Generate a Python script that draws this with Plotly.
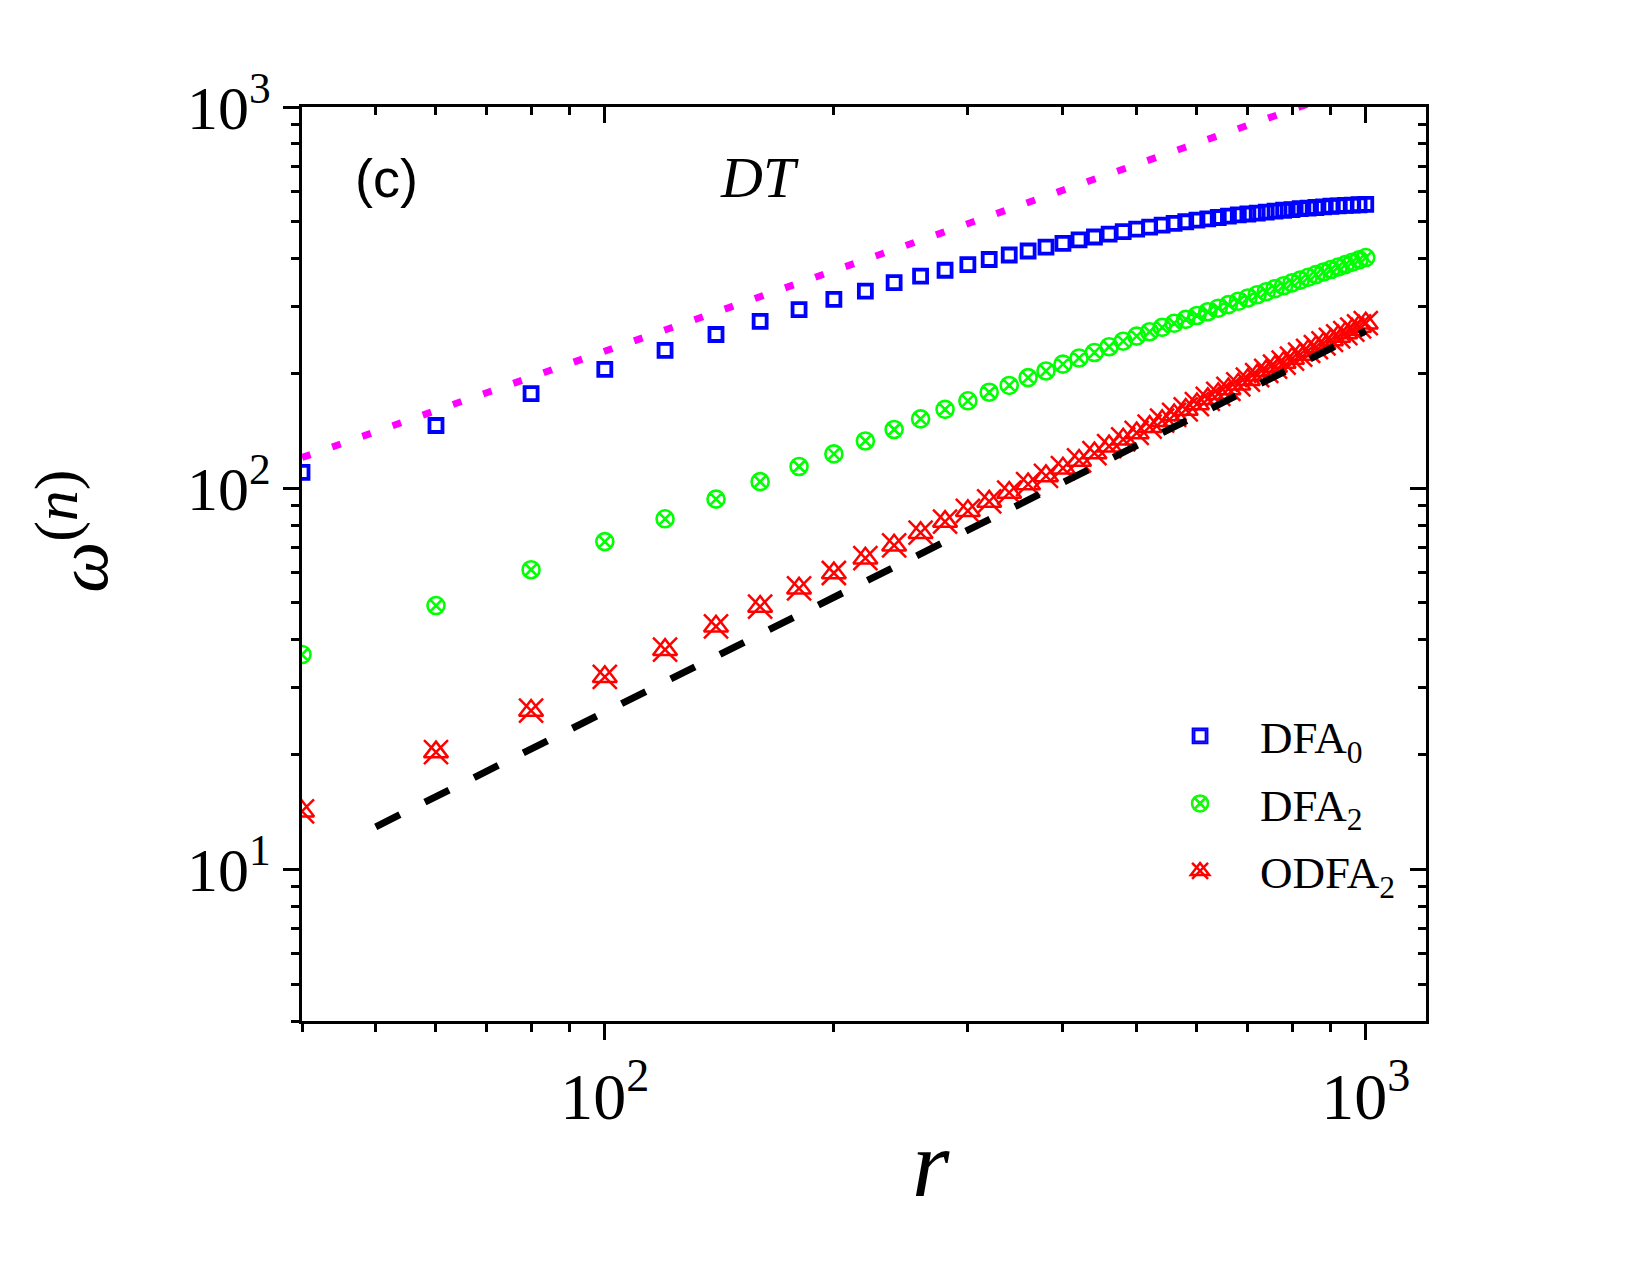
import math
import plotly.graph_objects as go

# ---------------- data ----------------
r_vals = [40, 60, 80, 100, 120, 140, 160, 180, 200, 220, 240, 260, 280, 300, 320, 340,
          360, 380, 400, 420, 440, 460, 480, 500, 520, 540, 560, 580, 600, 620, 640, 660,
          680, 700, 720, 740, 760, 780, 800, 820, 840, 860, 880, 900, 920, 940, 960, 980, 1000]

dfa0 = [110, 146, 177, 205, 230, 253, 274, 294, 313, 329, 346, 360, 373, 386, 398, 409,
        419, 429, 439, 448, 456, 464, 471, 478, 484, 490, 495, 500, 505, 509, 513, 517,
        521, 524, 527, 530, 533, 536, 538, 541, 543, 545, 547, 549, 550, 552, 553, 554, 555]

dfa2 = [36.6, 49.2, 61.1, 72.4, 83.1, 93.6, 104, 114, 123, 133, 142.5, 152, 161, 169.5, 178.5, 186,
        195, 203, 211.5, 219.5, 227, 235, 243, 250.5, 257.3, 264.1, 270.7, 277.3, 283.8, 290.3, 296.6, 303,
        309.2, 315.4, 321.6, 327.7, 333.7, 339.7, 345.6, 351.5, 357.4, 363.2, 369, 374.7, 380.4, 386, 391.6, 397.2, 402.7]

odfa2 = [14.2, 20.3, 26.1, 32.0, 37.7, 43.4, 48.9, 54.6, 59.9, 65.5, 70.8, 76.4, 81.7, 87.2, 92.3, 97.4,
         102.5, 107.7, 112.8, 118.2, 123.6, 128.9, 134.3, 139.6, 145, 150.3, 155.6, 160.9, 166.2, 171.5, 176.8, 182.1,
         187.3, 192.6, 197.9, 203.1, 208.4, 213.6, 218.8, 224.1, 229.3, 234.5, 239.7, 244.9, 250.1, 255.3, 260.5, 265.7, 270.9]

# reference power-law guide lines (end points)
dot_x = [40, 1000]
dot_y = [120.3, 1150]
dash_x = [50, 1000]
dash_y = [12.93, 258.6]

series_names = ["DFA<sub>0</sub>", "DFA<sub>2</sub>", "ODFA<sub>2</sub>"]

x_major = [100, 1000]
x_major_text = ["10<sup>2</sup>", "10<sup>3</sup>"]
x_minor = [40, 50, 60, 70, 80, 90, 200, 300, 400, 500, 600, 700, 800, 900]
y_major = [10, 100, 1000]
y_major_text = ["10<sup>1</sup>", "10<sup>2</sup>", "10<sup>3</sup>"]
y_minor = [4, 5, 6, 7, 8, 9, 20, 30, 40, 50, 60, 70, 80, 90, 200, 300, 400, 500, 600, 700, 800, 900]

x_range = [math.log10(40), math.log10(1200)]
y_range = [math.log10(4), 3]

# ---------------- figure ----------------
BLUE, GREEN, RED, MAG = "#0000FF", "#00FF00", "#FF0000", "#FF00FF"
SERIF = "Liberation Serif"

fig = go.Figure()

fig.add_trace(go.Scatter(
    x=r_vals, y=dfa0, mode="markers", name=series_names[0], legendgroup="g0",
    marker=dict(symbol="square-open", size=13, color=BLUE, line=dict(width=3.8, color=BLUE))))
fig.add_trace(go.Scatter(
    x=r_vals, y=dfa2, mode="markers", name=series_names[1], legendgroup="g1",
    marker=dict(symbol="circle-x-open", size=17, color=GREEN, line=dict(width=2.6, color=GREEN))))
fig.add_trace(go.Scatter(
    x=r_vals, y=odfa2, mode="markers", name=series_names[2], legendgroup="g2",
    marker=dict(symbol="triangle-up-open", size=21, color=RED, line=dict(width=2.5, color=RED))))

# second legend carrying the "x" part of the ODFA2 symbol
fig.add_trace(go.Scatter(x=[None], y=[None], mode="markers", name=series_names[0], legend="legend2",
                         legendgroup="h0", marker=dict(symbol="square-open", size=13, opacity=0)))
fig.add_trace(go.Scatter(x=[None], y=[None], mode="markers", name=series_names[1], legend="legend2",
                         legendgroup="h1", marker=dict(symbol="circle-x-open", size=17, opacity=0)))
fig.add_trace(go.Scatter(
    x=r_vals, y=odfa2, mode="markers", name=series_names[2], legend="legend2", legendgroup="h2",
    marker=dict(symbol="x-thin-open", size=24, color=RED, line=dict(width=2.5, color=RED))))

# guide lines (on the overlay axes)
fig.add_trace(go.Scatter(x=dot_x, y=dot_y, mode="lines", showlegend=False, xaxis="x2", yaxis="y2",
                         line=dict(color=MAG, width=7, dash="9px,23px")))
fig.add_trace(go.Scatter(x=dash_x, y=dash_y, mode="lines", showlegend=False, xaxis="x2", yaxis="y2",
                         line=dict(color="black", width=7, dash="27px,28px")))

tickfont_x = dict(family=SERIF, size=66, color="black")
tickfont_y = dict(family=SERIF, size=62, color="black")

common_x = dict(type="log", range=x_range, showgrid=False, zeroline=False,
                showline=True, linecolor="black", linewidth=3)
common_y = dict(type="log", range=y_range, showgrid=False, zeroline=False,
                showline=True, linecolor="black", linewidth=3)

legend_common = dict(x=0.7456, y=0.351, xanchor="left", yanchor="top",
                     bgcolor="rgba(0,0,0,0)", borderwidth=0, itemwidth=110,
                     traceorder="grouped", tracegroupgap=6,
                     itemclick=False, itemdoubleclick=False)

fig.update_layout(
    width=1650, height=1275,
    margin=dict(l=302, r=224, t=107, b=254, autoexpand=False),
    paper_bgcolor="white", plot_bgcolor="white",
    showlegend=True,
    xaxis=dict(**common_x, side="bottom", ticks="outside", ticklen=16, tickwidth=3, tickcolor="black",
               tickmode="array", tickvals=x_major, ticktext=x_major_text, tickfont=tickfont_x,
               minor=dict(ticks="outside", ticklen=8, tickwidth=2.5, tickcolor="black",
                          tickmode="array", tickvals=x_minor)),
    yaxis=dict(**common_y, side="left", ticks="outside", ticklen=16, tickwidth=3, tickcolor="black",
               tickmode="array", tickvals=y_major, ticktext=y_major_text, tickfont=tickfont_y,
               minor=dict(ticks="outside", ticklen=8, tickwidth=2.5, tickcolor="black",
                          tickmode="array", tickvals=y_minor)),
    xaxis2=dict(**common_x, overlaying="x", side="top", anchor="y2", ticks="inside", ticklen=16,
                tickwidth=3, tickcolor="black", showticklabels=False,
                tickmode="array", tickvals=x_major,
                minor=dict(ticks="inside", ticklen=8, tickwidth=2.5, tickcolor="black",
                           tickmode="array", tickvals=x_minor)),
    yaxis2=dict(**common_y, overlaying="y", side="right", anchor="x2", ticks="inside", ticklen=16,
                tickwidth=3, tickcolor="black", showticklabels=False,
                tickmode="array", tickvals=y_major,
                minor=dict(ticks="inside", ticklen=8, tickwidth=2.5, tickcolor="black",
                           tickmode="array", tickvals=y_minor)),
    legend=dict(**legend_common, font=dict(family=SERIF, size=45, color="black")),
    legend2=dict(**legend_common, font=dict(family=SERIF, size=45, color="rgba(0,0,0,0)")),
    annotations=[
        dict(text="(c)", x=0.0756, y=0.9223, xref="paper", yref="paper", showarrow=False,
             xanchor="center", yanchor="middle",
             font=dict(family="Liberation Sans", size=54, color="black")),
        dict(text="<i>DT</i>", x=0.4066, y=0.9234, xref="paper", yref="paper", showarrow=False,
             xanchor="center", yanchor="middle",
             font=dict(family=SERIF, size=58, color="black")),
        dict(text="<i>ω</i><sup><span style='font-size:62px'>(<i>n</i>)</span></sup>",
             x=-0.2045, y=0.5355, xref="paper", yref="paper",
             showarrow=False, textangle=-90, xanchor="center", yanchor="middle",
             font=dict(family=SERIF, size=72, color="black")),
        dict(text="<i>r</i>", x=0.5596, y=-0.1554, xref="paper", yref="paper", showarrow=False,
             xanchor="center", yanchor="middle",
             font=dict(family=SERIF, size=96, color="black")),
    ],
)

fig.write_html("out.html")
